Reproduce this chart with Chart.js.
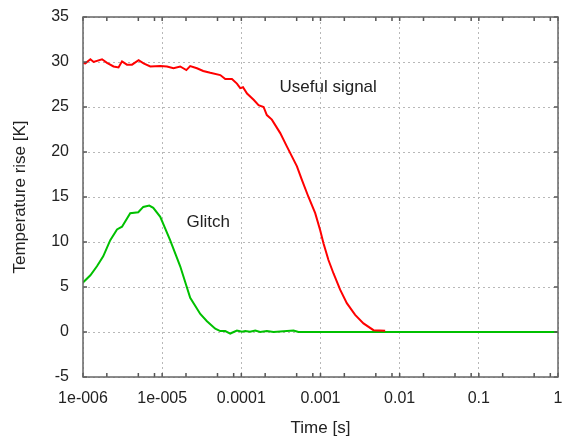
<!DOCTYPE html>
<html><head><meta charset="utf-8">
<script src="https://cdn.jsdelivr.net/npm/chart.js@4.4.1/dist/chart.umd.min.js"></script>
<style>html,body{margin:0;padding:0;background:#fff}#wrap{width:565px;height:439px}</style>
</head><body><div id="wrap"><canvas id="c" width="565" height="439"></canvas></div>
<script>
// ---- data ----
const usefulTime = [1.00e-6,1.07e-6,1.24e-6,1.36e-6,1.74e-6,2.01e-6,2.43e-6,2.81e-6,3.11e-6,3.59e-6,4.16e-6,5.04e-6,5.82e-6,7.08e-6,9.46e-6,1.15e-5,1.39e-5,1.69e-5,2.02e-5,2.26e-5,2.75e-5,3.30e-5,4.05e-5,5.42e-5,6.27e-5,7.61e-5,8.80e-5,9.68e-5,1.05e-4,1.18e-4,1.43e-4,1.65e-4,1.91e-4,2.10e-4,2.43e-4,3.10e-4,3.77e-4,5.04e-4,5.82e-4,7.05e-4,8.57e-4,9.91e-4,1.09e-3,1.26e-3,1.46e-3,1.77e-3,2.15e-3,2.74e-3,3.49e-3,4.67e-3,6.56e-3];
const usefulTemp = [29.9,29.85,30.3,30.0,30.3,29.9,29.5,29.4,30.07,29.7,29.7,30.2,29.85,29.5,29.55,29.5,29.3,29.5,29.1,29.55,29.3,29.0,28.8,28.55,28.1,28.1,27.6,27.1,27.2,26.5,25.8,25.2,25.0,24.1,23.6,22.1,20.6,18.4,16.9,15.0,13.2,11.3,9.85,8.0,6.5,4.7,3.2,1.9,0.96,0.2,0.15];
const glitchTime = [1.00e-6,1.24e-6,1.50e-6,1.80e-6,2.21e-6,2.69e-6,3.11e-6,3.95e-6,4.99e-6,5.77e-6,6.87e-6,7.72e-6,9.46e-6,1.26e-5,1.69e-5,2.26e-5,3.03e-5,3.68e-5,4.68e-5,5.42e-5,6.27e-5,7.24e-5,8.80e-5,1.02e-4,1.12e-4,1.29e-4,1.50e-4,1.73e-4,2.10e-4,2.55e-4,4.56e-4,5.27e-4,1];
const glitchTemp = [5.5,6.3,7.3,8.4,10.2,11.4,11.7,13.2,13.3,13.9,14.05,13.8,12.8,10.2,7.3,3.8,2.0,1.2,0.36,0.1,0.1,-0.17,0.17,0.02,0.1,0.02,0.17,0,0.1,0,0.17,0,0];
const xMajorTicks = [1e-6,1e-5,1e-4,1e-3,1e-2,1e-1,1];
const xTickLabels = ['1e-006','1e-005','0.0001','0.001','0.01','0.1','1'];
const xMinorFactors = [2,5,8];
const yMin = -5, yMax = 35, yStep = 5;
const labelTexts = ['Useful signal','Glitch'];
const labelX = [1.25e-3, 3.82e-5];
const labelY = [27.2, 12.2];

const FONT = "'Liberation Sans', Arial, sans-serif";
const toPts = (xs, ys) => xs.map((x,i)=>({x, y: ys[i]}));
const isMajor = v => xMajorTicks.some(m => Math.abs(m - v) / m < 1e-9);

const framePlugin = {
  id: 'frame',
  afterDatasetsDraw(chart) {
    const {ctx, chartArea: a, scales} = chart;
    ctx.save();
    ctx.fillStyle = '#222';
    ctx.font = '17px ' + FONT;
    ctx.textAlign = 'center';
    ctx.textBaseline = 'middle';
    labelTexts.forEach((t,i)=>{
      ctx.fillText(t, scales.x.getPixelForValue(labelX[i]), scales.y.getPixelForValue(labelY[i]));
    });
    ctx.strokeStyle = '#555';
    ctx.lineWidth = 1.5;
    ctx.beginPath();
    scales.x.ticks.forEach(t=>{
      const px = scales.x.getPixelForValue(t.value);
      ctx.moveTo(px, a.bottom); ctx.lineTo(px, a.bottom - 4);
      ctx.moveTo(px, a.top); ctx.lineTo(px, a.top + 4);
    });
    scales.y.ticks.forEach(t=>{
      const py = scales.y.getPixelForValue(t.value);
      ctx.moveTo(a.left, py); ctx.lineTo(a.left + 4, py);
      ctx.moveTo(a.right, py); ctx.lineTo(a.right - 4, py);
    });
    ctx.stroke();
    ctx.strokeStyle = '#666';
    ctx.lineWidth = 1.5;
    ctx.strokeRect(a.left, a.top, a.right - a.left, a.bottom - a.top);
    ctx.restore();
  }
};

new Chart(document.getElementById('c'), {
  type: 'line',
  data: {
    datasets: [
      {label: 'Useful signal', data: toPts(usefulTime, usefulTemp), borderColor: '#ff0000', borderWidth: 2, pointRadius: 0, tension: 0},
      {label: 'Glitch', data: toPts(glitchTime, glitchTemp), borderColor: '#00c000', borderWidth: 2, pointRadius: 0, tension: 0}
    ]
  },
  options: {
    responsive: false,
    devicePixelRatio: 1,
    animation: false,
    layout: {padding: {left: 0, top: 17, right: 7, bottom: 0}},
    plugins: {legend: {display: false}, tooltip: {enabled: false}},
    scales: {
      x: {
        type: 'logarithmic', min: 1e-6, max: 1,
        afterBuildTicks: s => {
          const t = [];
          xMajorTicks.forEach((v,i)=>{
            t.push({value: v});
            if (i < xMajorTicks.length - 1) xMinorFactors.forEach(f => t.push({value: v*f}));
          });
          s.ticks = t;
        },
        afterFit: s => { s.height = 62; s.paddingLeft = 0; s.paddingRight = 0; },
        ticks: {
          autoSkip: false, maxRotation: 0, minRotation: 0, padding: 12,
          color: '#222', font: {family: FONT, size: 16},
          callback: (v) => { const k = xMajorTicks.findIndex(m => Math.abs(m - v) / m < 1e-9); return k >= 0 ? xTickLabels[k] : ''; }
        },
        grid: {drawTicks: false, color: c => (c.tick && isMajor(c.tick.value)) ? '#b8b8b8' : 'rgba(0,0,0,0)', lineWidth: 1},
        border: {display: false, dash: [2, 3]},
        title: {display: true, text: 'Time [s]', color: '#222', font: {family: FONT, size: 17}, padding: {top: 0, bottom: 0}}
      },
      y: {
        type: 'linear', min: yMin, max: yMax,
        afterFit: s => { s.width = 83; s.paddingTop = 0; s.paddingBottom = 0; },
        ticks: {stepSize: yStep, padding: 14, color: '#222', font: {family: FONT, size: 16}},
        grid: {drawTicks: false, color: '#b8b8b8', lineWidth: 1},
        border: {display: false, dash: [2, 3]},
        title: {display: true, text: 'Temperature rise [K]', color: '#222', font: {family: FONT, size: 17}, padding: {top: 10, bottom: 0}}
      }
    }
  },
  plugins: [framePlugin]
});
</script>
</body></html>
